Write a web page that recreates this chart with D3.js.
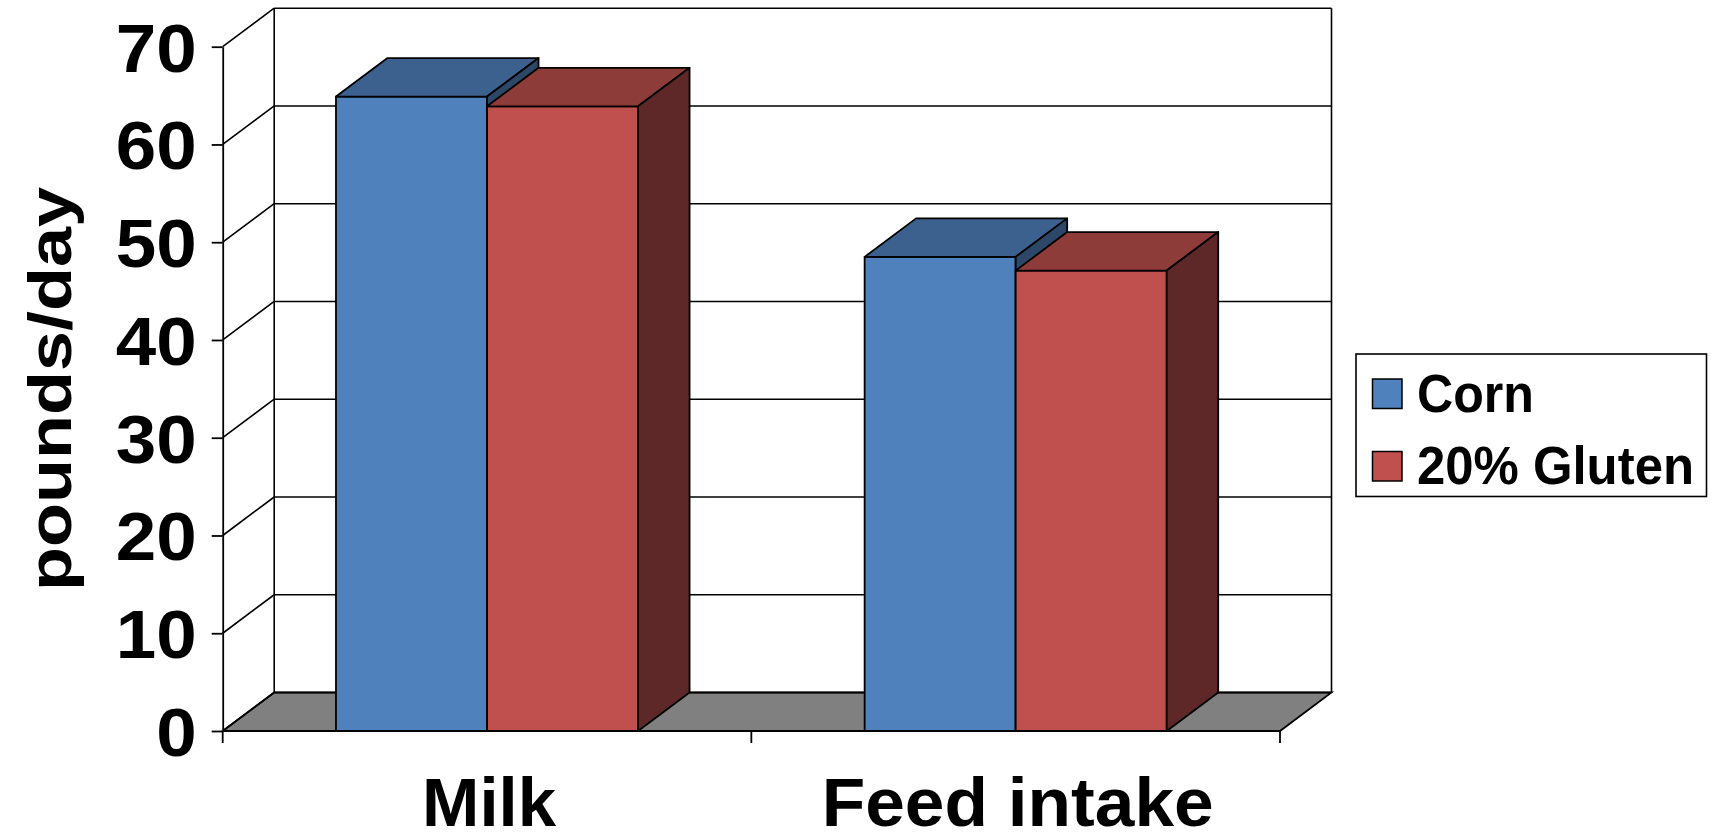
<!DOCTYPE html>
<html>
<head>
<meta charset="utf-8">
<script src="https://cdn.jsdelivr.net/npm/d3@7"></script>
<style>
  html, body { margin: 0; padding: 0; background: #fff; }
  svg { display: block; }
  text { font-family: "Liberation Sans", Arial, Helvetica, sans-serif; font-weight: bold; fill: #000; }
</style>
</head>
<body>
<svg id="chart" width="1712" height="833"></svg>
<script>
// Daily milk yield and feed intake, corn vs 20% gluten ration
const categories = ["Milk", "Feed intake"];
const seriesNames = ["Corn", "20% Gluten"];
const cornValues = [64.9, 48.5];
const glutenValues = [63.9, 47.1];
const yTicks = [0, 10, 20, 30, 40, 50, 60, 70];
const yTitle = "pounds/day";

(function () {
  const seriesValues = [cornValues, glutenValues];
  const faceColors = [
    { front: "#4F81BD", top: "#3C618E", side: "#2C4767" },
    { front: "#C0504D", top: "#8E3C3A", side: "#5F2828" }
  ];

  const svg = d3.select("#chart");

  // Plot frame: front plane and the depth offset of the 3D box
  const plotLeft = 222.7, plotRight = 1280, plotBottom = 731, plotTop = 46.7;
  const dx = 51.5, dy = -38.5;

  const y = d3.scaleLinear().domain([0, 70]).range([plotBottom, plotTop]);
  const x0 = d3.scaleBand().domain(categories).range([plotLeft, plotRight]).padding(0);
  const x1 = d3.scaleBand().domain(seriesNames).range([0, x0.bandwidth()])
    .paddingInner(0).paddingOuter(0.75);

  const line = d3.line();

  // Floor
  svg.append("path")
    .attr("d", line([[plotLeft, y(0)], [plotLeft + dx, y(0) + dy], [plotRight + dx, y(0) + dy], [plotRight, y(0)]]) + "Z")
    .attr("fill", "#808080").attr("stroke", "#000").attr("stroke-width", 1.8);

  // Back wall gridlines and side wall lines
  const grid = svg.append("g").attr("stroke", "#000").attr("stroke-width", 1.6).attr("fill", "none");
  yTicks.forEach(v => {
    grid.append("path").attr("d", line([[plotLeft + dx, y(v) + dy], [plotRight + dx, y(v) + dy]]));
    grid.append("path").attr("d", line([[plotLeft, y(v)], [plotLeft + dx, y(v) + dy]]));
  });
  // Back wall outline
  grid.append("path").attr("d", line([[plotLeft + dx, y(0) + dy], [plotLeft + dx, y(70) + dy]]));
  grid.append("path").attr("d", line([[plotRight + dx, y(0) + dy], [plotRight + dx, y(70) + dy]]));

  // Bars as 3D boxes: front face, top face, side face
  const barsG = svg.append("g");
  categories.forEach((cat, ci) => {
    seriesNames.forEach((s, si) => {
      const v = seriesValues[si][ci];
      const xa = x0(cat) + x1(s);
      const xb = xa + x1.bandwidth();
      const yt = y(v), yb = y(0);
      const c = faceColors[si];
      const g = barsG.append("g").attr("stroke", "#000").attr("stroke-width", 1.8).attr("stroke-linejoin", "round");
      g.append("path").attr("fill", c.front)
        .attr("d", line([[xa, yt], [xb, yt], [xb, yb], [xa, yb]]) + "Z");
      g.append("path").attr("fill", c.top)
        .attr("d", line([[xa, yt], [xb, yt], [xb + dx, yt + dy], [xa + dx, yt + dy]]) + "Z");
      g.append("path").attr("fill", c.side)
        .attr("d", line([[xb, yt], [xb + dx, yt + dy], [xb + dx, yb + dy], [xb, yb]]) + "Z");
    });
  });

  // Value axis
  const yAxis = d3.axisLeft(y).tickValues(yTicks).tickSize(11).tickSizeOuter(0).tickPadding(14);
  const yg = svg.append("g").attr("transform", `translate(${plotLeft},0)`).call(yAxis);
  yg.select(".domain").attr("stroke", "#000").attr("stroke-width", 1.8);
  yg.selectAll(".tick line").attr("stroke", "#000").attr("stroke-width", 1.8);
  yg.selectAll(".tick text")
    .attr("font-size", 68)
    .attr("dy", "0.36em")
    .attr("x", -26 / 1.07)
    .attr("transform", "scale(1.07,1)")
    .style("font-family", '"Liberation Sans", Arial, sans-serif')
    .style("font-weight", "bold");

  // Category axis: baseline, boundary ticks and labels
  const xg = svg.append("g").attr("stroke", "#000").attr("stroke-width", 1.8);
  xg.append("path").attr("d", line([[plotLeft, y(0)], [plotRight, y(0)]]));
  const bounds = [x0.range()[0]].concat(categories.map(c => x0(c) + x0.bandwidth()));
  bounds.forEach(b => xg.append("path").attr("d", line([[b, y(0)], [b, y(0) + 12]])));

  svg.append("g").selectAll("text").data(categories).join("text")
    .attr("x", d => x0(d) + x0.bandwidth() / 2 + 2)
    .attr("y", 826)
    .attr("text-anchor", "middle")
    .attr("font-size", 69)
    .attr("textLength", d => d === "Milk" ? 134 : 392)
    .attr("lengthAdjust", "spacingAndGlyphs")
    .text(d => d);

  // Value axis title
  svg.append("text")
    .attr("transform", "translate(71,389) rotate(-90)")
    .attr("text-anchor", "middle")
    .attr("font-size", 62)
    .attr("textLength", 404)
    .attr("lengthAdjust", "spacingAndGlyphs")
    .text(yTitle);

  // Legend
  const lg = svg.append("g");
  lg.append("rect").attr("x", 1356).attr("y", 354).attr("width", 350.5).attr("height", 142.5)
    .attr("fill", "#fff").attr("stroke", "#000").attr("stroke-width", 1.6);
  const legendRows = [393.5, 466];
  seriesNames.forEach((s, i) => {
    lg.append("rect").attr("x", 1372.5).attr("y", legendRows[i] - 14.5).attr("width", 29.5).attr("height", 29.5)
      .attr("fill", faceColors[i].front).attr("stroke", "#000").attr("stroke-width", 1.5);
    lg.append("text").attr("x", 1417).attr("y", legendRows[i] + 18)
      .attr("font-size", 53)
      .attr("textLength", i === 0 ? 117 : 277)
      .attr("lengthAdjust", "spacingAndGlyphs")
      .text(s);
  });
})();
</script>
</body>
</html>
